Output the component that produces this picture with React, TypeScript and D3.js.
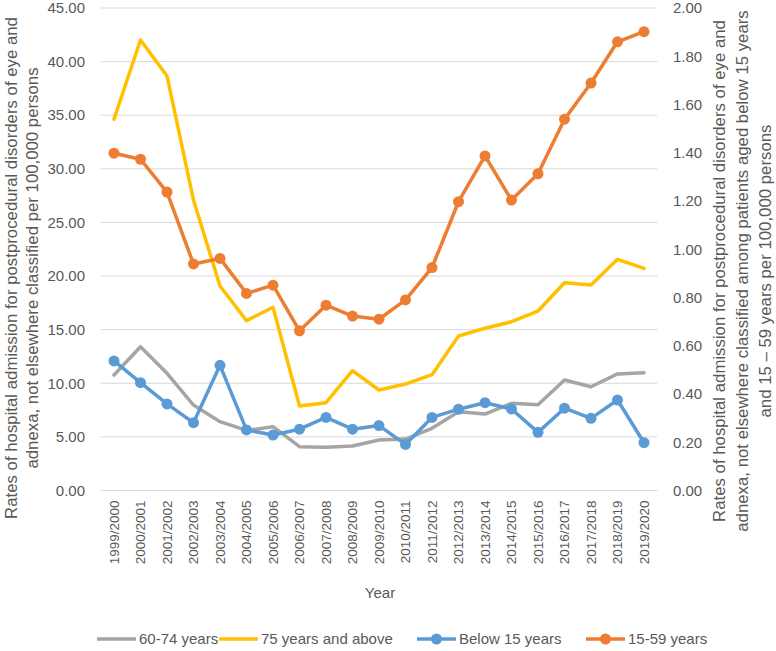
import React from "react";
import * as d3 from "d3";

const categories = [
  "1999/2000", "2000/2001", "2001/2002", "2002/2003", "2003/2004", "2004/2005", "2005/2006",
  "2006/2007", "2007/2008", "2008/2009", "2009/2010", "2010/2011", "2011/2012", "2012/2013",
  "2013/2014", "2014/2015", "2015/2016", "2016/2017", "2017/2018", "2018/2019", "2019/2020",
];

const age60to74 = [10.77, 13.41, 10.93, 7.97, 6.42, 5.6, 5.95, 4.09, 4.03, 4.15, 4.71, 4.8, 5.8, 7.35, 7.13, 8.13, 8.0, 10.31, 9.68, 10.87, 10.99];
const age75plus = [34.62, 42.02, 38.66, 27.09, 19.07, 15.84, 17.09, 7.88, 8.19, 11.17, 9.37, 9.93, 10.8, 14.41, 15.13, 15.74, 16.74, 19.38, 19.17, 21.56, 20.72];
const below15 = [0.537, 0.447, 0.359, 0.281, 0.519, 0.251, 0.23, 0.254, 0.303, 0.254, 0.269, 0.191, 0.303, 0.337, 0.364, 0.338, 0.241, 0.341, 0.299, 0.375, 0.198];
const age15to59 = [1.398, 1.373, 1.237, 0.939, 0.962, 0.817, 0.851, 0.662, 0.768, 0.723, 0.71, 0.79, 0.924, 1.197, 1.387, 1.204, 1.313, 1.539, 1.689, 1.86, 1.902];

const leftTicks = [0, 5, 10, 15, 20, 25, 30, 35, 40, 45];
const rightTicks = [0, 0.2, 0.4, 0.6, 0.8, 1.0, 1.2, 1.4, 1.6, 1.8, 2.0];

const leftTitle = [
  "Rates of hospital admission for postprocedural disorders of eye and",
  "adnexa, not elsewhere classified per 100,000 persons",
];
const rightTitle = [
  "Rates of hospital admission for postprocedural disorders of eye and",
  "adnexa, not elsewhere classified among patients aged below 15 years",
  "and 15 – 59 years per 100,000 persons",
];

const series = [
  { name: "60-74 years", values: age60to74, axis: "left", color: "#a5a5a5", marker: false },
  { name: "75 years and above", values: age75plus, axis: "left", color: "#ffc000", marker: false },
  { name: "Below 15 years", values: below15, axis: "right", color: "#5b9bd5", marker: true },
  { name: "15-59 years", values: age15to59, axis: "right", color: "#ed7d31", marker: true },
];

const legendX = [97, 219, 417, 586];

export default function App() {
  const W = 776, H = 651;
  const plotL = 100.75, plotR = 657.25, plotT = 8, plotB = 490.5;
  const x = d3.scaleBand<string>().domain(categories).range([plotL, plotR]);
  const yL = d3.scaleLinear().domain([0, 45]).range([plotB, plotT]);
  const yR = d3.scaleLinear().domain([0, 2]).range([plotB, plotT]);
  const cx = (c: string) => (x(c) as number) + x.bandwidth() / 2;
  const font = "'Liberation Sans', Arial, sans-serif";
  const txt = "#595959";

  return (
    <svg width={W} height={H} style={{ position: "absolute", left: 0, top: 0, background: "#fff" }} fontFamily={font}>
      {leftTicks.map((t) => (
        <line key={"g" + t} x1={plotL} x2={plotR} y1={yL(t)} y2={yL(t)} stroke="#d9d9d9" strokeWidth={1} />
      ))}
      {leftTicks.map((t) => (
        <text key={"l" + t} x={85} y={yL(t)} dy="0.35em" textAnchor="end" fontSize={15} fill={txt}>
          {t.toFixed(2)}
        </text>
      ))}
      {rightTicks.map((t) => (
        <text key={"r" + t} x={673} y={yR(t)} dy="0.35em" textAnchor="start" fontSize={15} fill={txt}>
          {t.toFixed(2)}
        </text>
      ))}
      {categories.map((c) => (
        <text key={c} transform={`translate(${cx(c)},${plotB + 10}) rotate(-90)`} dy="0.35em" textAnchor="end" fontSize={13.5} fill={txt}>
          {c}
        </text>
      ))}
      <text x={380} y={598} textAnchor="middle" fontSize={15} fill={txt}>Year</text>
      <text transform={`translate(11,268) rotate(-90)`} textAnchor="middle" fontSize={16.8} fill={txt}>
        {leftTitle.map((l, i) => (
          <tspan key={i} x={0} dy={i === 0 ? "0.35em" : 21.5}>{l}</tspan>
        ))}
      </text>
      <text transform={`translate(719,271) rotate(-90)`} textAnchor="middle" fontSize={16.8} fill={txt}>
        {rightTitle.map((l, i) => (
          <tspan key={i} x={0} dy={i === 0 ? "0.35em" : 23}>{l}</tspan>
        ))}
      </text>
      {series.map((s) => {
        const y = s.axis === "left" ? yL : yR;
        const line = d3.line<number>().x((_, i) => cx(categories[i])).y((v) => y(v));
        return (
          <g key={s.name}>
            <path d={line(s.values) || ""} fill="none" stroke={s.color} strokeWidth={3.5} strokeLinejoin="round" strokeLinecap="round" />
            {s.marker && s.values.map((v, i) => (
              <circle key={i} cx={cx(categories[i])} cy={y(v)} r={5.5} fill={s.color} />
            ))}
          </g>
        );
      })}
      {series.map((s, i) => (
        <g key={"lg" + s.name} transform={`translate(${legendX[i]},639)`}>
          <line x1={0} x2={39} y1={0} y2={0} stroke={s.color} strokeWidth={3.5} />
          {s.marker && <circle cx={19.5} cy={0} r={5.5} fill={s.color} />}
          <text x={42} y={0} dy="0.35em" fontSize={15} fill={txt}>{s.name}</text>
        </g>
      ))}
    </svg>
  );
}
